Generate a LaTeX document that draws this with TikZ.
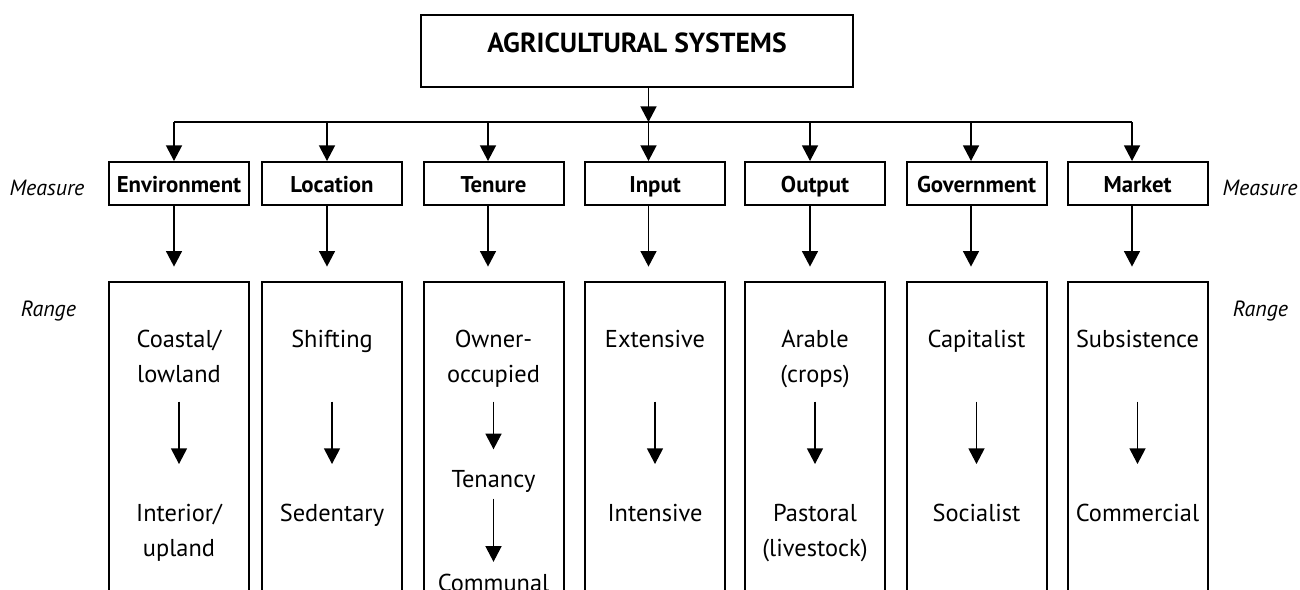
\documentclass[tikz,border=0pt]{standalone}
\usepackage{fontspec}
\setmainfont{PT Sans}
\usetikzlibrary{arrows.meta}

\begin{document}
\begin{tikzpicture} [
        x=0.5pt, y=-0.5pt,
        line width=0.75pt,
        arr/.style={-{Triangle[width=8pt,length=7.8pt]}},
        topbox/.style={
        draw, line width=1pt, inner sep=0pt,
        minimum width=216pt, text height=19pt, text depth=17pt,
        font=\fontsize{13.8}{16}\selectfont\bfseries
        },
        measbox/.style={
        draw, line width=1pt, inner sep=0pt,
        minimum width=70pt, minimum height=21.5pt,
        text height=9pt, text depth=0pt,
        font=\fontsize{11.4}{13}\selectfont\bfseries
        },
        rngbox/.style={
        draw, line width=1pt, anchor=north,
        minimum width=70pt, minimum height=200pt
        },
        rng/.style={
        anchor=north, inner sep=0pt, align=center,
        font=\fontsize{12.2}{17.5}\selectfont
        },
        rngarr/.style={arr, line width=0.65pt, shorten <=#1, shorten >=16pt},
        rngarr/.default=3.9pt,
        side/.style={anchor=base, font=\fontsize{11}{13}\selectfont\itshape}
    ]

        % 坐标按像素取，一个像素是0.5pt

    \useasboundingbox (0,0) rectangle (1300,589);
    \clip (0,0) rectangle (1300,589);

    \node[topbox, anchor=base] (agri) at (637,52.7) {AGRICULTURAL SYSTEMS};

    \coordinate (b1) at (174,122);
    \coordinate (b2) at (327,122);
    \coordinate (b3) at (488,122);
    \coordinate (b4) at (648.5,122);
    \coordinate (b5) at (810,122);
    \coordinate (b6) at (971,122);
    \coordinate (b7) at (1132,122);

    \draw[arr] (agri.south -| b4) -- (b4);
    \draw (b1) -- (b7);

    \node[measbox] (env) at (179,183.5) {Environment};
    \node[measbox] (loc) at (332,183.5) {Location};
    \node[measbox] (ten) at (493.5,183.5) {Tenure};
    \node[measbox] (inp) at (655,183.5) {Input};
    \node[measbox] (out) at (815,183.5) {Output};
    \node[measbox] (gov) at (976.5,183.5) {Government};
    \node[measbox] (mkt) at (1137.5,183.5) {Market};

    \node[rngbox] (envr) at (179,281) {};
    \node[rngbox] (locr) at (332,281) {};
    \node[rngbox] (tenr) at (493.5,281) {};
    \node[rngbox] (inpr) at (655,281) {};
    \node[rngbox] (outr) at (815,281) {};
    \node[rngbox] (govr) at (976.5,281) {};
    \node[rngbox] (mktr) at (1137.5,281) {};

    \draw[arr] (b1) -- (b1 |- env.north);
    \draw[arr] (b2) -- (b2 |- loc.north);
    \draw[arr] (b3) -- (b3 |- ten.north);
    \draw[arr] (b4) -- (b4 |- inp.north);
    \draw[arr] (b5) -- (b5 |- out.north);
    \draw[arr] (b6) -- (b6 |- gov.north);
    \draw[arr] (b7) -- (b7 |- mkt.north);

    \draw[arr, shorten >=7.2pt] (b1 |- env.south) -- (b1 |- envr.north);
    \draw[arr, shorten >=7.2pt] (b2 |- loc.south) -- (b2 |- locr.north);
    \draw[arr, shorten >=7.2pt] (b3 |- ten.south) -- (b3 |- tenr.north);
    \draw[arr, shorten >=7.2pt] (b4 |- inp.south) -- (b4 |- inpr.north);
    \draw[arr, shorten >=7.2pt] (b5 |- out.south) -- (b5 |- outr.north);
    \draw[arr, shorten >=7.2pt] (b6 |- gov.south) -- (b6 |- govr.north);
    \draw[arr, shorten >=7.2pt] (b7 |- mkt.south) -- (b7 |- mktr.north);

    \node[side] (measl) at (47,195) {Measure};
    \node[side] (measr) at (1260,195) {Measure};
    \node[side] (rangel) at (48.5,316) {Range};
    \node[side] (ranger) at (1260.5,316) {Range};

    \node[rng] (env1) at (179,322.2) {\strut Coastal/\\\strut lowland};
    \node[rng] (env2) at (179,496) {\strut Interior/\\\strut upland};
    \draw[rngarr] (env1.south) -- (env2.north);

    \node[rng] (loc1) at (332,322.2) {\strut Shifting};
    \node[rng] (loc2) at (332,496) {\strut Sedentary};
    \draw[rngarr=21.4pt] (loc1.south) -- (loc2.north);

    \node[rng] (ten1) at (493.5,322.2) {\strut Owner-\\\strut occupied};
    \node[rng] (ten2) at (493.5,462.2) {\strut Tenancy};
    \node[rng] (ten3) at (493.5,565.8) {\strut Communal};
    \draw[arr, line width=0.65pt, shorten <=3.9pt, shorten >=6.45pt] (ten1.south) -- (ten2.north);
    \draw[arr, line width=0.65pt, shorten >=2pt] (ten2.south) -- (ten3.north);

    \node[rng] (inp1) at (655,322.2) {\strut Extensive};
    \node[rng] (inp2) at (655,496) {\strut Intensive};
    \draw[rngarr=21.4pt] (inp1.south) -- (inp2.north);

    \node[rng] (out1) at (815,322.2) {\strut Arable\\\strut (crops)};
    \node[rng] (out2) at (815,496) {\strut Pastoral\\\strut (livestock)};
    \draw[rngarr] (out1.south) -- (out2.north);

    \node[rng] (gov1) at (976.5,322.2) {\strut Capitalist};
    \node[rng] (gov2) at (976.5,496) {\strut Socialist};
    \draw[rngarr=21.4pt] (gov1.south) -- (gov2.north);

    \node[rng] (mkt1) at (1137.5,322.2) {\strut Subsistence};
    \node[rng] (mkt2) at (1137.5,496) {\strut Commercial};
    \draw[rngarr=21.4pt] (mkt1.south) -- (mkt2.north);

    \end{tikzpicture}
\end{document}
